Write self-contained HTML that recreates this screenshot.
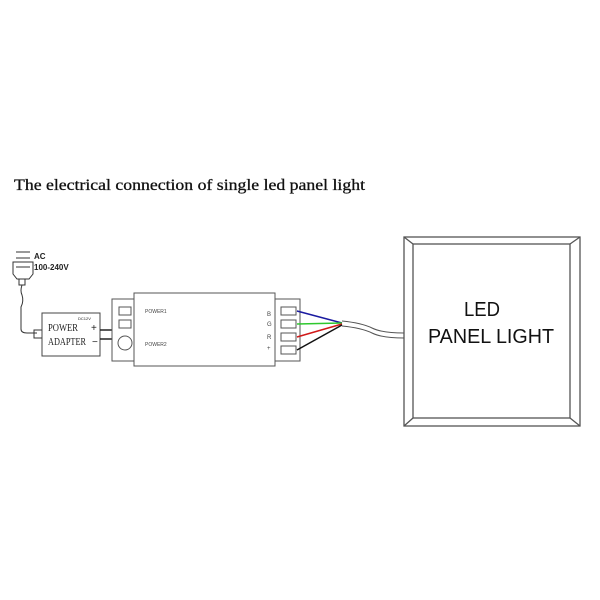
<!DOCTYPE html>
<html><head><meta charset="utf-8"><style>html,body{margin:0;padding:0;background:#fff;width:600px;height:600px;overflow:hidden}</style></head>
<body>
<svg width="600" height="600" viewBox="0 0 600 600" xmlns="http://www.w3.org/2000/svg">
<text x="14" y="190" font-family="Liberation Serif, serif" font-size="16" fill="#111" stroke="#111" stroke-width="0.3" textLength="351" lengthAdjust="spacingAndGlyphs">The electrical connection of single led panel light</text>

<!-- plug -->
<g stroke="#333" fill="none" stroke-width="1">
<line x1="16" y1="252" x2="30" y2="252"/>
<line x1="16" y1="258" x2="30" y2="258"/>
<path d="M13 262 h20 v12 l-4 5 h-12 l-4 -5 z"/>
<line x1="16" y1="267" x2="30" y2="267"/>
<rect x="19" y="279" width="6" height="6"/>
<path d="M22 285 q-2 6 0 10 q2 6 -1 12 v22 q0 4 6 4 h10"/>
<rect x="34" y="330" width="8" height="8"/>
</g>
<text x="34" y="259" font-family="Liberation Sans, sans-serif" font-size="8" font-weight="bold" fill="#222">AC</text>
<text x="34" y="270" font-family="Liberation Sans, sans-serif" font-size="8" font-weight="bold" fill="#222">100-240V</text>

<!-- adapter -->
<rect x="42" y="313" width="58" height="43" fill="#fff" stroke="#444"/>
<text x="48" y="331" font-family="Liberation Serif, serif" font-size="10" fill="#222" textLength="30" lengthAdjust="spacingAndGlyphs">POWER</text>
<text x="48" y="345" font-family="Liberation Serif, serif" font-size="10" fill="#222" textLength="38" lengthAdjust="spacingAndGlyphs">ADAPTER</text>
<text x="78" y="320" font-family="Liberation Sans, sans-serif" font-size="4" fill="#222">DC12V</text>
<text x="91" y="331" font-family="Liberation Sans, sans-serif" font-size="10" fill="#222">+</text>
<text x="92" y="345" font-family="Liberation Sans, sans-serif" font-size="10" fill="#222">−</text>
<line x1="100" y1="330" x2="112" y2="330" stroke="#222" stroke-width="1.5"/>
<line x1="100" y1="339" x2="112" y2="339" stroke="#222" stroke-width="1.5"/>

<!-- controller -->
<g stroke="#555" fill="#fff" stroke-width="1">
<rect x="112" y="299" width="22" height="62"/>
<rect x="275" y="299" width="25" height="62"/>
<rect x="134" y="293" width="141" height="73"/>
<rect x="119" y="307" width="12" height="8"/>
<rect x="119" y="320" width="12" height="8"/>
<circle cx="125" cy="343" r="7"/>
<rect x="281" y="307" width="15" height="8"/>
<rect x="281" y="320" width="15" height="8"/>
<rect x="281" y="333" width="15" height="8"/>
<rect x="281" y="346" width="15" height="8"/>
</g>
<text x="145" y="313" font-family="Liberation Sans, sans-serif" font-size="5" fill="#444">POWER1</text>
<text x="145" y="346" font-family="Liberation Sans, sans-serif" font-size="5" fill="#444">POWER2</text>
<g font-family="Liberation Sans, sans-serif" font-size="6" fill="#444">
<text x="267" y="316">B</text><text x="267" y="326">G</text><text x="267" y="339">R</text><text x="267" y="350">+</text>
</g>
<!-- wires -->
<line x1="297" y1="311" x2="342" y2="323" stroke="#1a1aa0" stroke-width="1.5"/>
<line x1="297" y1="324" x2="342" y2="323" stroke="#2ec82e" stroke-width="1.5"/>
<line x1="297" y1="337" x2="342" y2="324" stroke="#d01818" stroke-width="1.5"/>
<line x1="297" y1="350" x2="342" y2="325" stroke="#111" stroke-width="1.5"/>
<path d="M342 321 q20 2 30 7 q10 5 32 5" fill="none" stroke="#555"/>
<path d="M342 326 q20 2 30 7 q10 5 32 5" fill="none" stroke="#555"/>

<!-- panel -->
<g stroke="#555" fill="none" stroke-width="1.3">
<rect x="404" y="237" width="176" height="189"/>
<rect x="413" y="244" width="157" height="174"/>
<line x1="404" y1="237" x2="413" y2="244"/>
<line x1="580" y1="237" x2="570" y2="244"/>
<line x1="404" y1="426" x2="413" y2="418"/>
<line x1="580" y1="426" x2="570" y2="418"/>
</g>
<text x="464" y="316" font-family="Liberation Sans, sans-serif" font-size="20" fill="#111" textLength="36" lengthAdjust="spacingAndGlyphs">LED</text>
<text x="428" y="343" font-family="Liberation Sans, sans-serif" font-size="20" fill="#111" textLength="126" lengthAdjust="spacingAndGlyphs">PANEL LIGHT</text>
</svg>
</body></html>
